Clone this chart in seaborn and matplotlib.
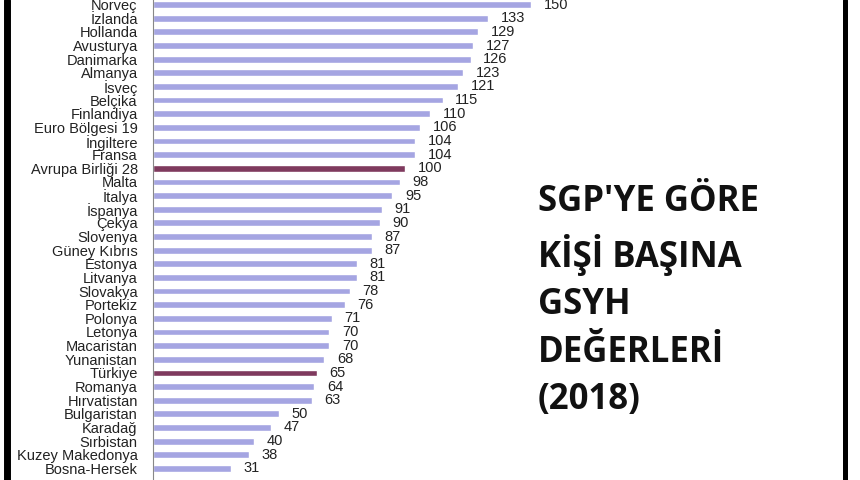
import matplotlib
matplotlib.use("Agg")
import matplotlib.pyplot as plt
from matplotlib.lines import Line2D
import seaborn as sns

# ---------------------------
# Data (SGP'ye göre kişi başına GSYH, 2018)
# ---------------------------
countries = [
    "Norveç", "İzlanda", "Hollanda", "Avusturya", "Danimarka", "Almanya",
    "İsveç", "Belçika", "Finlandiya", "Euro Bölgesi 19", "İngiltere", "Fransa",
    "Avrupa Birliği 28", "Malta", "İtalya", "İspanya", "Çekya", "Slovenya",
    "Güney Kıbrıs", "Estonya", "Litvanya", "Slovakya", "Portekiz", "Polonya",
    "Letonya", "Macaristan", "Yunanistan", "Türkiye", "Romanya", "Hırvatistan",
    "Bulgaristan", "Karadağ", "Sırbistan", "Kuzey Makedonya", "Bosna-Hersek",
    "Arnavutluk",
]
values = [
    150, 133, 129, 127, 126, 123,
    121, 115, 110, 106, 104, 104,
    100, 98, 95, 91, 90, 87,
    87, 81, 81, 78, 76, 71,
    70, 70, 68, 65, 64, 63,
    50, 47, 40, 38, 31,
    31,
]
highlight = ["Avrupa Birliği 28", "Türkiye"]

blue = "#9b9bec"
maroon = "#8a2f5e"
palette = {c: (maroon if c in highlight else blue) for c in countries}

# ---------------------------
# Figure
# ---------------------------
sns.set_style("white")
plt.rcParams["font.family"] = ["Liberation Sans", "DejaVu Sans"]

fig = plt.figure(figsize=(8.6, 4.8), dpi=100)
ax = fig.add_axes([153 / 860, 0, 447 / 860, 1])

sns.barplot(x=values, y=countries, hue=countries, palette=palette,
            legend=False, orient="h", width=0.5, ax=ax)

for cont in ax.containers:
    ax.bar_label(cont, padding=9, fontsize=10.5, color="#222222")

sns.despine(ax=ax, left=False, bottom=True)
ax.spines["left"].set_color("#888888")
ax.spines["left"].set_linewidth(0.8)
ax.set_xticks([])
ax.set_xlabel("")
ax.set_ylabel("")
ax.tick_params(axis="y", which="major", length=0, pad=11, labelsize=10.5,
               labelcolor="#222222")
ax.set_yticks([i + 0.5 for i in range(-1, len(countries))], minor=True)
ax.tick_params(axis="y", which="minor", length=3, width=0.8,
               color="#333333", direction="out")

# limits last, so the minor ticks do not widen them
ax.set_xlim(0, 447 / 2.52)
ax.set_ylim(34.85, -0.337)

# title on the right
fig.text(538 / 860, 1 - 184 / 480,
         "SGP'YE GÖRE\nKİŞİ BAŞINA\nGSYH\nDEĞERLERİ\n(2018)",
         fontsize=25, fontweight="bold", family=["Open Sans", "DejaVu Sans"],
         ha="left", va="top", linespacing=1.42, color="#111111")

# black frame lines at the image edges
fig.add_artist(Line2D([6.5 / 860, 6.5 / 860], [0, 1], color="black", lw=5))
fig.add_artist(Line2D([844.5 / 860, 844.5 / 860], [0, 1], color="black", lw=3.6))

fig.savefig("out.png", dpi=100)
